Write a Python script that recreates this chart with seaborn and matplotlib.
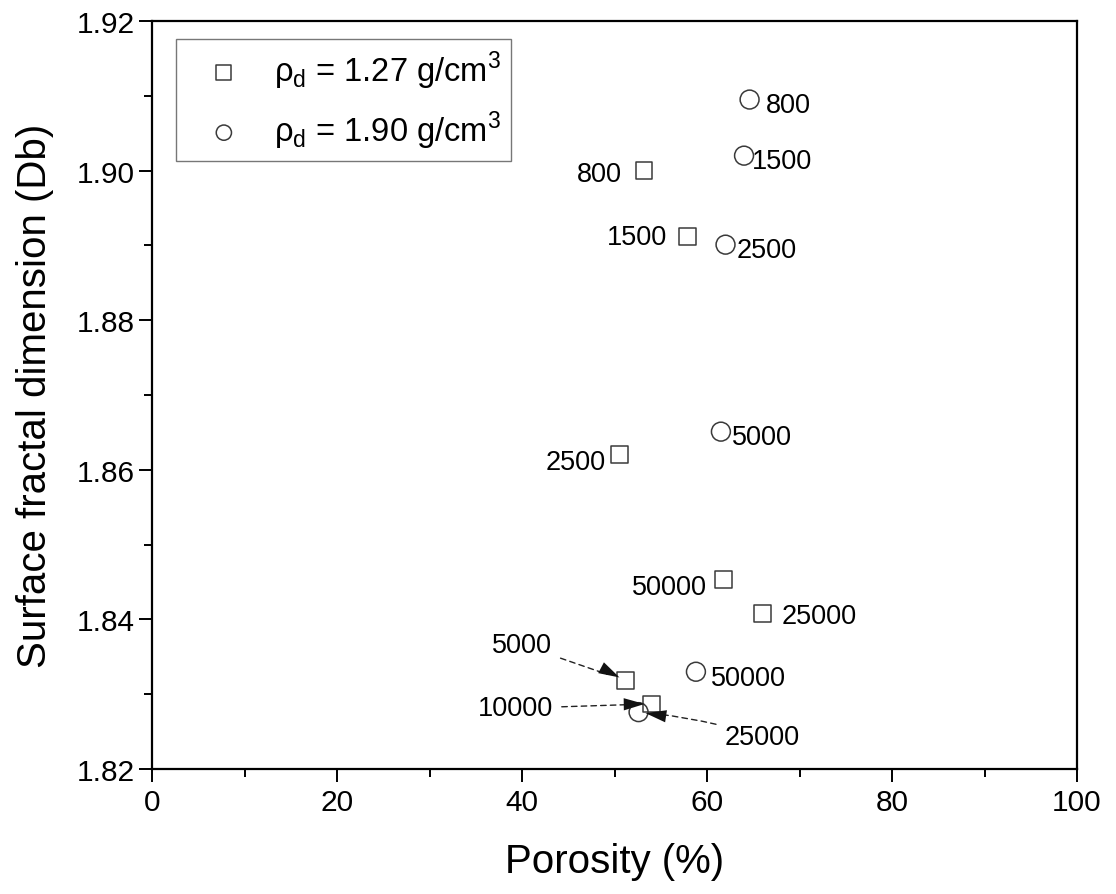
import matplotlib
matplotlib.use("Agg")
import matplotlib.pyplot as plt
from matplotlib.ticker import MultipleLocator, FormatStrFormatter
import seaborn as sns
import pandas as pd

# ---- data ----
sq_labels = ["800", "1500", "2500", "5000", "10000", "25000", "50000"]
sq_porosity = [53.2, 57.9, 50.5, 51.2, 54.0, 66.0, 61.8]
sq_db = [1.9000, 1.8912, 1.8620, 1.8318, 1.8287, 1.8408, 1.8453]

ci_labels = ["800", "1500", "2500", "5000", "25000", "50000"]
ci_porosity = [64.6, 64.0, 62.0, 61.5, 52.6, 58.8]
ci_db = [1.9095, 1.9020, 1.8901, 1.8651, 1.8276, 1.8330]

legend_sq = "ρ$_\\mathregular{d}$ = 1.27 g/cm$^\\mathregular{3}$"
legend_ci = "ρ$_\\mathregular{d}$ = 1.90 g/cm$^\\mathregular{3}$"

x_label = "Porosity (%)"
y_label = "Surface fractal dimension (Db)"

# label offsets (points) and alignment for each point label
sq_offsets = {"800": (-16, 0, "right"), "1500": (-15, 2, "right"), "2500": (-10, -3, "right"),
              "25000": (14, 0, "left"), "50000": (-12, -3, "right")}
ci_offsets = {"800": (12, -2, "left"), "1500": (6, -2, "left"), "2500": (8, -2, "left"),
              "5000": (8, -2, "left"), "50000": (11, -2, "left")}
sq_arrows = {"5000": (-53, 28, "right", 0.0), "10000": (-71, -1, "right", 0.0)}
ci_arrows = {"25000": (62, -16, "left", 0.06)}

# ---- style ----
sns.set_theme(style="white")
plt.rcParams["font.family"] = ["Liberation Sans", "DejaVu Sans"]
plt.rcParams["mathtext.fontset"] = "custom"
plt.rcParams["mathtext.rm"] = "Liberation Sans"
plt.rcParams["text.color"] = "black"
plt.rcParams["axes.labelcolor"] = "black"
plt.rcParams["xtick.color"] = "black"
plt.rcParams["ytick.color"] = "black"

fig = plt.figure(figsize=(11.16, 8.95), dpi=100)
ax = fig.add_axes([0.1362, 0.1397, 0.8289, 0.8357])

df_sq = pd.DataFrame({"x": sq_porosity, "y": sq_db})
df_ci = pd.DataFrame({"x": ci_porosity, "y": ci_db})

edge = "#3a3a3a"
sns.scatterplot(data=df_sq, x="x", y="y", marker="s", s=145, facecolor="none",
                edgecolor=edge, linewidth=1.1, ax=ax, label=legend_sq, zorder=3)
sns.scatterplot(data=df_ci, x="x", y="y", marker="o", s=185, facecolor="none",
                edgecolor=edge, linewidth=1.1, ax=ax, label=legend_ci, zorder=3)

ax.set_xlim(0, 100)
ax.set_ylim(1.82, 1.92)
ax.xaxis.set_major_locator(MultipleLocator(20))
ax.xaxis.set_minor_locator(MultipleLocator(10))
ax.yaxis.set_major_locator(MultipleLocator(0.02))
ax.yaxis.set_minor_locator(MultipleLocator(0.01))
ax.yaxis.set_major_formatter(FormatStrFormatter("%.2f"))
ax.xaxis.set_major_formatter(FormatStrFormatter("%d"))

ax.tick_params(which="major", direction="out", length=9.5, width=1.4, labelsize=21.5,
               bottom=True, left=True, top=False, right=False, colors="black", pad=4)
ax.tick_params(axis="y", which="major", pad=3)
ax.tick_params(which="minor", direction="out", length=5.8, width=1.4,
               bottom=True, left=True, top=False, right=False)
for sp in ax.spines.values():
    sp.set_linewidth(1.6)
    sp.set_color("black")
    sp.set_visible(True)

ax.set_xlabel(x_label, fontsize=29, labelpad=19)
ax.set_ylabel(y_label, fontsize=29, labelpad=16)

fs = 19.5
line_kw = dict(arrowstyle="-", linestyle=(0, (4, 3)), color="#222222", lw=1.0,
               shrinkA=4, shrinkB=14)
head_kw = dict(arrowstyle="-|>,head_length=0.75,head_width=0.22", color="#111111",
               lw=0.0, mutation_scale=20, shrinkA=4, shrinkB=5)


def arrow_label(lab, x, y, dx, dy, ha, rad):
    ax.annotate(lab, (x, y), xytext=(dx, dy), textcoords="offset points",
                ha=ha, va="center_baseline", fontsize=fs,
                arrowprops=dict(line_kw, connectionstyle=f"arc3,rad={rad}"))
    ax.annotate("", (x, y), xytext=(dx, dy), textcoords="offset points",
                arrowprops=dict(head_kw, connectionstyle=f"arc3,rad={rad}"))


for lab, x, y in zip(sq_labels, sq_porosity, sq_db):
    if lab in sq_offsets:
        dx, dy, ha = sq_offsets[lab]
        ax.annotate(lab, (x, y), xytext=(dx, dy), textcoords="offset points",
                    ha=ha, va="center_baseline", fontsize=fs)
    elif lab in sq_arrows:
        dx, dy, ha, rad = sq_arrows[lab]
        arrow_label(lab, x, y, dx, dy, ha, rad)
for lab, x, y in zip(ci_labels, ci_porosity, ci_db):
    if lab in ci_offsets:
        dx, dy, ha = ci_offsets[lab]
        ax.annotate(lab, (x, y), xytext=(dx, dy), textcoords="offset points",
                    ha=ha, va="center_baseline", fontsize=fs)
    elif lab in ci_arrows:
        dx, dy, ha, rad = ci_arrows[lab]
        arrow_label(lab, x, y, dx, dy, ha, rad)

leg = ax.legend(loc="upper left", bbox_to_anchor=(0.026, 0.976), borderaxespad=0,
                fontsize=23.5, frameon=True, fancybox=False, edgecolor="#555555",
                handletextpad=0.37, borderpad=0.3, labelspacing=0.55, handlelength=2.33)
leg.get_frame().set_linewidth(1.0)
for h in leg.legend_handles:
    h.set_sizes([120])

fig.savefig("out.png", dpi=100, facecolor="white")
